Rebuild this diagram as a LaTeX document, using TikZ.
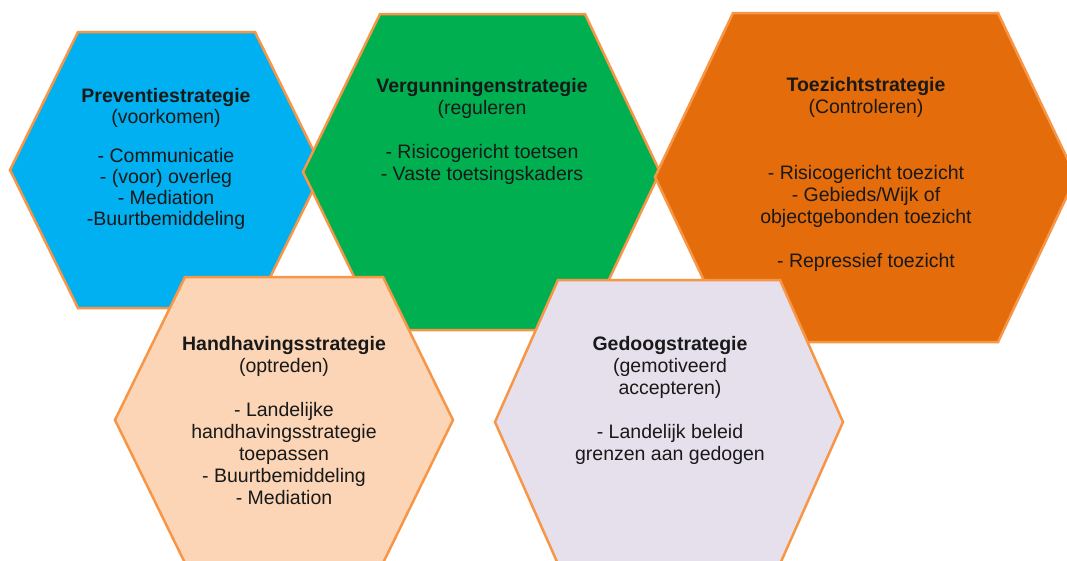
\documentclass[tikz,border=0pt]{standalone}
\usepackage{fontspec}
\setmainfont{Liberation Sans}
\usepackage{tikz}

\definecolor{hexrand}{HTML}{F79646}
\definecolor{prevblauw}{HTML}{00B0F0}
\definecolor{verggroen}{HTML}{00B050}
\definecolor{toezoranje}{HTML}{E46C0A}
\definecolor{handhperzik}{HTML}{FBD5B5}
\definecolor{gedooglila}{HTML}{E5E0EC}

\tikzset{
    hexvlak/.style={draw=hexrand, line width=2.5pt, line join=miter},
    hextekst/.style={align=center, inner sep=0pt, text=black!90,
        font=\fontsize{19.5}{22}\selectfont}
}

\begin{document}
\begin{tikzpicture}[x=1pt, y=-1pt]
    \useasboundingbox (0,0) rectangle (1067,560);
    % bovenste rij
    \draw [hexvlak, fill=prevblauw] (78,32) -- (255,32) -- (323,170) -- (255,308) -- (78,308) -- (10,170) -- cycle;
    \draw [hexvlak, fill=verggroen] (380,14) -- (585,14) -- (660,172) -- (585,330) -- (380,330) -- (303,172) -- cycle;
    \draw [hexvlak, fill=toezoranje] (733,13) -- (998,13) -- (1076,177) -- (998,342) -- (733,342) -- (655,177) -- cycle;
    % onderste rij
    \draw [hexvlak, fill=handhperzik] (185,277) -- (383,277) -- (453,420) -- (383,563) -- (185,563) -- (115,420) -- cycle;
    \draw [hexvlak, fill=gedooglila] (558,280) -- (780,280) -- (843,422) -- (780,564) -- (558,564) -- (495,422) -- cycle;

    \node [hextekst, font=\fontsize{19.5}{21}\selectfont] (prev) at (166,159) {\textbf{Preventiestrategie}\\(voorkomen)\\[18pt]
        - Communicatie\\- (voor) overleg\\- Mediation\\-Buurtbemiddeling};
    \node [hextekst] (verg) at (482,131) {\textbf{Vergunningenstrategie}\\(reguleren\\[22pt]
        - Risicogericht toetsen\\- Vaste toetsingskaders};
    \node [hextekst] (toez) at (866,174) {\textbf{Toezichtstrategie}\\(Controleren)\\[44pt]
        - Risicogericht toezicht\\- Gebieds/Wijk of\\objectgebonden toezicht\\[22pt]
        - Repressief toezicht};
    \node [hextekst] (handh) at (284,421) {\textbf{Handhavingsstrategie}\\(optreden)\\[22pt]
        - Landelijke\\handhavingsstrategie\\toepassen\\- Buurtbemiddeling\\- Mediation};
    \node [hextekst] (gedoog) at (670,400) {\textbf{Gedoogstrategie}\\(gemotiveerd\\accepteren)\\[22pt]
        - Landelijk beleid\\grenzen aan gedogen};
\end{tikzpicture}
\end{document}
